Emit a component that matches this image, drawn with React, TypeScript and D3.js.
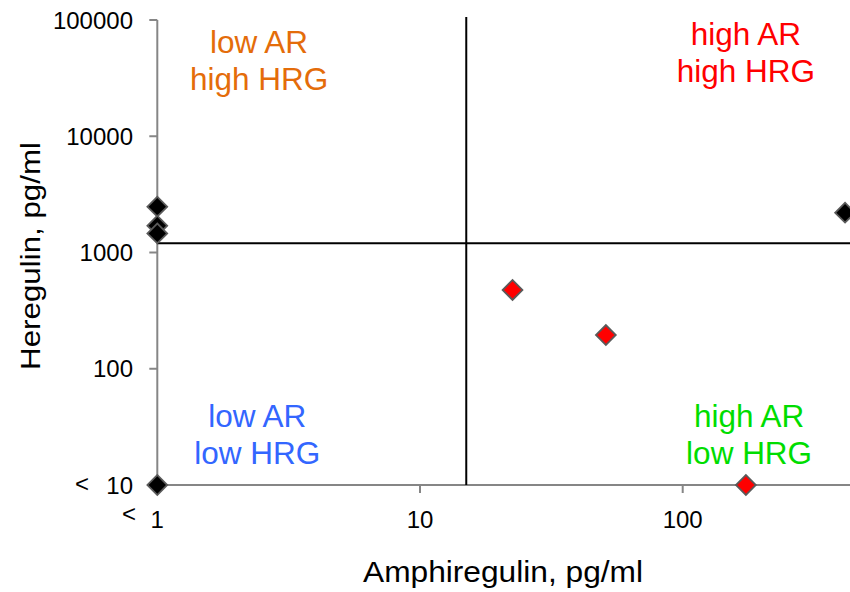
import React from 'react';
import { scaleLog, select, symbol, symbolSquare } from 'd3';

// values
const arTicks = [1, 10, 100];
const hrgTicks = [10, 100, 1000, 10000, 100000];

const blackAR = [1, 1, 1, 1, 415];
const blackHRG = [2480, 1700, 1460, 10, 2200];

const redAR = [22.5, 51, 174];
const redHRG = [476, 195, 10];

const arCut = 15;
const hrgCut = 1200;

const quadrants = [
  { lines: ['low AR', 'high HRG'], ar: 2.44, hrg: 52000, color: '#E46C0A' },
  { lines: ['high AR', 'high HRG'], ar: 174, hrg: 61000, color: '#FF0000' },
  { lines: ['low AR', 'low HRG'], ar: 2.4, hrg: 31.5, color: '#3366FF' },
  { lines: ['high AR', 'low HRG'], ar: 179, hrg: 31.5, color: '#00DD00' },
];

const dims = {
  width: 850,
  height: 592,
  left: 157.3,
  decadeX: 262.7,
  top: 20,
  bottom: 485,
};

const font = '"Liberation Sans", Arial, sans-serif';

const Chart: React.FC = () => {
  const ref = React.useRef<SVGSVGElement>(null);

  React.useEffect(() => {
    const svg = select(ref.current);
    svg.selectAll('*').remove();

    const x = scaleLog()
      .domain([1, 1000])
      .range([dims.left, dims.left + 3 * dims.decadeX]);
    const y = scaleLog()
      .domain([10, 100000])
      .range([dims.bottom, dims.top]);

    const axisColor = '#868686';

    // y axis
    svg.append('line')
      .attr('x1', x(1)).attr('x2', x(1))
      .attr('y1', y(100000)).attr('y2', y(10))
      .attr('stroke', axisColor).attr('stroke-width', 2);
    svg.selectAll('.ytick').data(hrgTicks).enter().append('line')
      .attr('x1', x(1) - 8).attr('x2', x(1))
      .attr('y1', d => y(d)).attr('y2', d => y(d))
      .attr('stroke', axisColor).attr('stroke-width', 2);
    svg.selectAll('.ylab').data(hrgTicks).enter().append('text')
      .attr('x', 133).attr('y', d => y(d)).attr('dy', '0.36em')
      .attr('text-anchor', 'end')
      .style('font-family', font).style('font-size', '24px').attr('fill', '#000')
      .text(d => String(d));
    svg.append('text')
      .attr('x', 82).attr('y', y(10)).attr('dy', '0.3em')
      .attr('text-anchor', 'middle')
      .style('font-family', font).style('font-size', '24px')
      .text('<');

    // x axis
    svg.append('line')
      .attr('x1', x(1)).attr('x2', dims.width)
      .attr('y1', y(10)).attr('y2', y(10))
      .attr('stroke', axisColor).attr('stroke-width', 2);
    svg.selectAll('.xtick').data(arTicks).enter().append('line')
      .attr('x1', d => x(d)).attr('x2', d => x(d))
      .attr('y1', y(10)).attr('y2', y(10) + 8)
      .attr('stroke', axisColor).attr('stroke-width', 2);
    svg.selectAll('.xlab').data(arTicks).enter().append('text')
      .attr('x', d => x(d)).attr('y', 528)
      .attr('text-anchor', 'middle')
      .style('font-family', font).style('font-size', '24px')
      .text(d => String(d));
    svg.append('text')
      .attr('x', 129).attr('y', 522)
      .attr('text-anchor', 'middle')
      .style('font-family', font).style('font-size', '24px')
      .text('<');

    // threshold lines
    svg.append('line')
      .attr('x1', x(arCut)).attr('x2', x(arCut))
      .attr('y1', y(106000)).attr('y2', y(10))
      .attr('stroke', '#000').attr('stroke-width', 2);
    svg.append('line')
      .attr('x1', x(1)).attr('x2', dims.width)
      .attr('y1', y(hrgCut)).attr('y2', y(hrgCut))
      .attr('stroke', '#000').attr('stroke-width', 2);

    // quadrant labels
    quadrants.forEach(q => {
      const t = svg.append('text')
        .attr('x', x(q.ar)).attr('y', y(q.hrg))
        .attr('text-anchor', 'middle')
        .style('font-family', font).style('font-size', '31.5px')
        .attr('fill', q.color);
      q.lines.forEach((l, i) => {
        t.append('tspan').attr('x', x(q.ar)).attr('dy', i === 0 ? 0 : 37).text(l);
      });
    });

    // points
    const diamond = symbol().type(symbolSquare).size(196)();
    const drawPts = (ar: number[], hrg: number[], fill: string) => {
      svg.append('g').selectAll('path').data(ar).enter().append('path')
        .attr('d', diamond)
        .attr('transform', (d, i) => `translate(${x(d)},${y(hrg[i])}) rotate(45)`)
        .attr('fill', fill)
        .attr('stroke', '#5a5a5a')
        .attr('stroke-width', 1.8);
    };
    drawPts(blackAR, blackHRG, '#000');
    drawPts(redAR, redHRG, '#FF0000');

    // axis titles
    svg.append('text')
      .attr('x', 503).attr('y', 582)
      .attr('text-anchor', 'middle')
      .attr('textLength', 280).attr('lengthAdjust', 'spacingAndGlyphs')
      .style('font-family', font).style('font-size', '29px')
      .text('Amphiregulin, pg/ml');
    svg.append('text')
      .attr('transform', `translate(40,256) rotate(-90)`)
      .attr('text-anchor', 'middle')
      .attr('textLength', 228).attr('lengthAdjust', 'spacingAndGlyphs')
      .style('font-family', font).style('font-size', '28px')
      .text('Heregulin, pg/ml');
  }, []);

  return (
    <div style={{ position: 'absolute', left: 0, top: 0 }}>
      <svg ref={ref} width={dims.width} height={dims.height} style={{ display: 'block', background: '#fff' }} />
    </div>
  );
};

export default function App() {
  return <Chart />;
}
